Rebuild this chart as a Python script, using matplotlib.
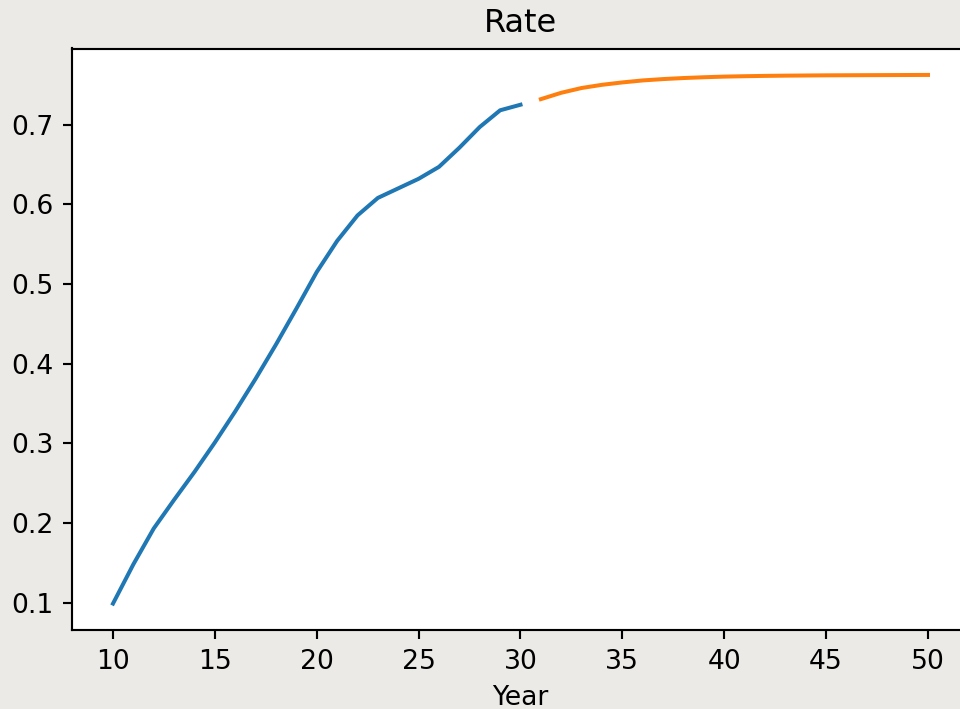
import matplotlib
matplotlib.use('Agg')
import matplotlib.pyplot as plt

# 历史数据（蓝）与预测数据（橙）
years_hist = list(range(10, 31))
rate_hist = [0.0987, 0.148, 0.193, 0.229, 0.264, 0.301, 0.340, 0.381, 0.424,
             0.469, 0.515, 0.554, 0.586, 0.608, 0.620, 0.632, 0.647, 0.671,
             0.697, 0.718, 0.725]

years_pred = list(range(31, 51))
rate_pred = [0.732, 0.740, 0.746, 0.750, 0.753, 0.7555, 0.7572, 0.7585,
             0.7595, 0.7603, 0.7608, 0.7612, 0.7615, 0.7617, 0.7619, 0.7620,
             0.7621, 0.7622, 0.7623, 0.7624]

fig = plt.figure(figsize=(5.0, 709 / 192), dpi=192, facecolor='#eceae6')
ax = fig.add_axes([72.25 / 960, 79 / 709, 896.5 / 960, 581.5 / 709])

ax.plot(years_hist, rate_hist)
ax.plot(years_pred, rate_pred)
ax.set_title('Rate')
ax.set_xlabel('Year')

fig.savefig('out.png', dpi=192, facecolor=fig.get_facecolor())
